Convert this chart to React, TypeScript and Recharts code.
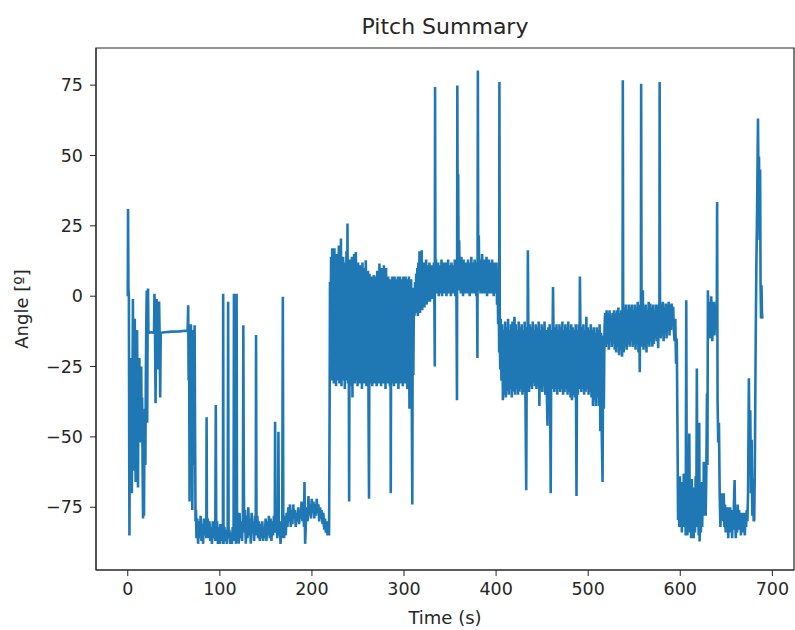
import React from "react"
import { LineChart, Line, XAxis, YAxis, ReferenceArea } from "recharts"

// pitch log, [time s, angle deg]
const launch = [
  [0, 0], [0.3, 31], [0.7, 3], [1.2, 0], [1.8, -85], [2.3, -45], [2.8, -22], [3.3, -50], [3.8, -30],
  [4.4, -70], [5, -40], [5.6, -1], [6.1, -35], [6.6, -62], [7.1, -20], [7.6, -8], [8.1, -48], [8.6, -66],
  [9.1, -25], [9.6, -44], [10.1, -12], [10.6, -38], [11.1, -68], [11.6, -30], [12.1, -48], [12.6, -22],
  [13.1, -52], [13.6, -35], [14.1, -45], [14.6, -25], [15.1, -50], [15.6, -36], [16.1, -60], [16.6, -79],
  [17.1, -42], [17.6, -78], [18.1, -50], [18.6, -40], [19.1, -60], [19.6, -30], [20.1, -10], [20.6, 2],
  [21.1, -45], [21.5, -13], [22, 2.7], [22.4, -13],
]

const hold = [
  [23, -13], [26, -12.8], [28.5, -13], [29, 0.9], [29.6, -13], [30.2, -38], [30.8, -12], [31.3, -1],
  [31.9, -13], [32.5, -26], [33.2, -12], [34, -1.9], [34.6, -14], [35.2, -36], [35.8, -13], [40, -12.8],
  [48, -12.6], [56, -12.5], [63, -12.3], [65, -12.5],
]

const drop1 = [
  [65.6, -3.2], [66.1, -30], [66.6, -12], [67.1, -73], [67.6, -15], [68.1, -28], [68.6, -10], [69.1, -31],
  [69.6, -18], [70.1, -76], [70.6, -25], [71.1, -12], [71.6, -60], [72.1, -30], [72.6, -10.3], [73.1, -50],
  [73.6, -80], [74.1, -76], [74.6, -86],
]

const low1 = [
  [75.5, -79], [76.4, -88], [77.3, -80], [78.2, -86], [79.1, -78], [80, -87], [80.9, -81], [81.8, -88],
  [82.7, -79], [83.6, -85], [84.5, -80], [85.3, -86], [85.6, -43], [86, -84], [86.9, -79], [87.8, -86],
  [88.7, -80], [89.6, -87], [90.5, -82], [91.4, -88], [92.3, -80], [93.2, -86], [94.1, -81], [95, -87],
  [95.6, -38.7], [96.1, -84], [97, -80], [97.9, -88], [98.8, -82], [99.7, -88], [100.6, -81], [101.5, -87],
  [102.4, -83], [103.3, -88], [103.6, 0.9], [104, -88], [104.9, -82], [105.8, -87], [106.7, -83],
  [107.6, -88], [108.5, -82], [109, -2], [109.5, -86], [110.4, -83], [111.3, -88], [112.2, -84],
  [113.1, -88], [114, -82], [114.9, -87], [115.3, 0.9], [115.8, -86], [116.6, -80], [117.5, -88],
  [118.2, 0.9], [118.7, -87], [119.6, -79], [120.5, -88], [121.4, -77], [122.3, -86], [123.2, -80],
  [124.1, -87], [125, -79], [125.5, -10.3], [125.9, -56], [126.4, -84], [127.3, -76], [128.2, -88],
  [129.1, -78], [130, -86], [130.9, -75], [131.8, -85], [132.7, -79], [133.6, -88], [134.5, -77],
  [135.4, -84], [136.3, -80], [137.2, -87], [138.1, -78], [139, -85], [139.3, -13.8], [139.8, -83],
  [140.7, -78], [141.6, -86], [142.5, -80], [143.4, -87], [144.3, -81], [145.2, -86], [146.1, -80],
  [147, -87], [147.9, -82], [148.8, -86], [149.7, -79], [150.6, -87], [151.5, -80], [152.4, -85],
  [153.3, -78], [154.2, -86], [155.1, -79], [156, -87], [156.9, -80], [157.8, -85], [158.7, -78],
  [159.6, -84], [160, -44.6], [160.5, -82], [161.4, -77], [162.3, -86], [163.2, -79], [163.6, -48.2],
  [164.1, -85], [165, -80], [165.9, -88], [166.8, -81], [167.7, -86], [168.4, -0.2], [168.9, -80],
]

const low2 = [
  [169.8, -86], [170.7, -78], [171.6, -85], [172.5, -77], [173.4, -82], [174.3, -75], [175.2, -80],
  [176.1, -74], [177, -82], [177.9, -76], [178.8, -81], [179.7, -74], [180.6, -79], [181.5, -76],
  [182.4, -82], [183.3, -77], [184.2, -80], [185.1, -75], [186, -81], [186.9, -77], [187.8, -79],
  [188.7, -73], [189.6, -80], [190.5, -76], [191.4, -82], [191.9, -66], [192.6, -88], [193.5, -80],
  [194.4, -75], [195.3, -80], [196.2, -71], [197.1, -78], [198, -74], [198.9, -79], [199.8, -72],
  [200.7, -77], [201.6, -73], [202.5, -79], [203.4, -74], [204.3, -78], [205.2, -72], [206.1, -77],
  [207, -74], [207.9, -80], [208.8, -75], [209.7, -79], [210.6, -76], [211.5, -81], [212.4, -77],
  [213.3, -83], [214.2, -79], [215.1, -84], [216, -80], [216.9, -85], [217.8, -81], [218.6, -85],
]

const bandD = [
  [219.2, -40], [219.6, 5], [220.2, -25], [220.8, 14], [221.4, -30], [222, 17], [222.6, -28], [223.2, 12],
  [223.8, -31], [224.4, 17], [225, -24], [225.6, 10], [226.2, -32], [226.8, 15], [227.4, -30], [228, 13],
  [228.6, -27], [229.2, 18], [229.8, -31], [230.4, 14], [231, -29], [231.5, 20.5], [232.1, -32],
  [232.7, 11], [233.3, -30], [233.9, 14], [234.5, -28], [235.1, 9], [235.7, -33], [236.3, 12],
  [236.9, -30], [237.5, 16], [238.1, -29], [238.6, 25.8], [239.2, -31], [239.8, 10], [240.4, -73],
  [241, 13], [241.6, -32], [242.2, 8], [242.8, -30], [243.4, 14], [244, -36], [244.6, 11], [245.2, -30],
  [245.8, 15], [246.4, -31], [247, 9], [247.7, 15.7], [248.3, -30], [248.9, 8], [249.5, -32], [250.1, 12],
  [250.7, -29], [251.3, 6], [251.9, -31], [252.5, 11], [253.1, -30], [253.7, 9], [254.3, -33],
  [254.9, 12], [255.5, -30], [256.1, 7], [256.7, -31], [257.3, 10], [257.9, -29], [258.5, 12.8],
  [259.1, -32], [259.7, 6], [260.3, -31], [260.9, 9], [261.5, -43], [262, -72], [262.5, 8], [263.1, -31],
  [263.7, 5], [264.3, -30], [264.9, 7], [265.5, -32], [266.1, 4], [266.7, -30], [267.3, 7.5],
  [267.9, -31], [268.5, 5], [269.1, -29], [269.7, 7], [270.3, -32], [270.9, 9], [271.5, -30], [272.1, 6],
  [272.7, -31], [273.3, 11.6], [273.9, -29], [274.5, 8], [275.1, -32], [275.7, 10], [276.3, -30],
  [276.9, 6], [277.5, -31], [278.1, 11], [278.7, -30], [279.3, 7], [279.9, -33], [280.5, 10],
  [281.1, -30], [281.7, 5], [282.3, -31], [282.9, 7], [283.5, -29], [284.1, 4], [284.7, -32], [285.3, 6],
  [285.6, -70], [286.1, 3], [286.7, -31], [287.3, 7], [287.9, -30], [288.5, 5], [289.1, -32], [289.7, 7],
  [290.3, -29], [290.9, 4], [291.5, -31], [292.1, 6], [292.7, -30], [293.3, 7], [293.9, -33], [294.5, 5],
  [295.1, -30], [295.7, 7], [296.3, -31], [296.9, 4], [297.5, -29], [298.1, 6], [298.7, -32], [299.3, 7],
  [299.9, -30], [300.5, 5], [301.1, -31], [301.7, 7], [302.3, -30], [302.9, 4], [303.5, -33], [304.1, 6],
  [304.7, -29], [305.3, 7], [305.9, -40], [306.5, 5], [307.1, -31], [307.7, 6], [308.3, -30], [309, -74],
  [309.5, 3], [310.1, -28], [310.8, 2],
]

const bandE = [
  [311.4, -7], [312, 5], [312.6, -6], [313.2, 8], [313.8, -5], [314.4, 10], [315, -7], [315.6, 12],
  [316.2, -4], [316.8, 16], [317.4, -6], [318, 14], [318.6, -3], [319.2, 16.3], [319.8, -5], [320.4, 11],
  [321, -2], [321.6, 12], [322.2, -4], [322.8, 10], [323.4, -1], [324, 13], [324.6, -3], [325.2, 9],
  [325.8, -2], [326.4, 11], [327, 0], [327.6, 12], [328.2, -2], [328.8, 9], [329.4, 0], [330, 11],
  [330.6, -1], [331.2, 10], [331.8, 1], [332.4, 12], [333, -3], [333.4, -25], [333.7, 74.3], [334.1, 5],
  [334.7, 13], [335.3, 1], [335.9, 10], [336.5, 2], [337.1, 12], [337.7, 0], [338.3, 9], [338.9, 1],
  [339.5, 11], [340.1, 2], [340.7, 13], [341.3, 0], [341.9, 10], [342.5, 2], [343.1, 12], [343.7, 1],
  [344.3, 9], [344.9, 3], [345.5, 12], [346.1, 0], [346.7, 10], [347.3, 2], [347.9, 13], [348.5, 1],
  [349.1, 11], [349.7, 3], [350.3, 9], [350.9, 0], [351.5, 12], [352.1, 2], [352.7, 10], [353.3, 1],
  [353.9, 11], [354.5, 2], [355.1, 13], [355.7, 0], [356.3, 10], [356.9, 2], [357.5, -37], [357.9, 74.9],
  [358.3, 12], [358.8, 43.5], [359.3, 8], [359.9, 19.9], [360.5, 2], [361.1, 11], [361.7, 1], [362.3, 14],
  [362.9, 2], [363.5, 10], [364.1, 0], [364.7, 13], [365.3, 2], [365.9, 9], [366.5, 1], [367.1, 12],
  [367.7, 3], [368.3, 10], [368.9, 1], [369.5, 13], [370.1, 2], [370.7, 11], [371.3, 0], [371.9, 12],
  [372.5, 2], [373.1, 14], [373.7, 1], [374.3, 12], [374.9, 3], [375.5, 10], [376.1, 1], [376.7, 13],
  [377.3, 2], [377.9, 11], [378.5, 0], [379.1, 12], [379.7, -22], [380.2, 80.2], [380.6, 4], [381.2, 21.6],
  [381.8, 2], [382.4, 13], [383, 1], [383.6, 12], [384.2, 2], [384.8, 15], [385.4, 1], [386, 11],
  [386.6, 3], [387.2, 13], [387.8, 1], [388.4, 12], [389, 2], [389.6, 14], [390.2, 0], [390.8, 11],
  [391.4, 2], [392, 13], [392.6, 1], [393.2, 12], [393.8, 3], [394.4, 10], [395, 1], [395.6, 13],
  [396.2, 2], [396.8, 11], [397.4, 0], [398, 12], [398.6, 2], [399.2, 10], [399.8, 1], [400.4, 12],
  [401, -3], [401.6, 9], [402.2, -10], [402.8, 5], [403.3, -20], [403.6, 76.1], [404, -15], [404.5, -26],
  [405, -8],
]

const bandF = [
  [405.8, -30], [406.6, -10], [407.4, -37], [408.2, -12], [409, -35], [409.8, -9], [410.6, -36],
  [411.4, -11], [412.2, -34], [413, -8], [413.8, -35], [414.6, -12], [415.4, -33], [416.2, -10], [417, -36],
  [417.8, -9], [418.6, -34], [419.4, -11], [420, -7.3], [420.6, -35], [421.4, -10], [422.2, -33],
  [423, -12], [423.8, -35], [424.6, -9], [425.4, -34], [426.2, -11], [427, -33], [427.8, -10],
  [428.6, -35], [429.4, -12], [430.2, -34], [431, -9], [431.8, -33], [432.7, -69], [433.4, -11],
  [434, -30], [434.5, 16.3], [435, -12], [435.8, -34], [436.6, -10], [437.4, -32], [438.2, -11],
  [439, -33], [439.8, -9], [440.6, -31], [441.4, -12], [442.2, -32], [443, -10], [443.8, -33],
  [444.6, -11], [445.4, -32], [446.2, -9], [447, -39], [447.8, -12], [448.6, -33], [449.4, -10],
  [450.2, -34], [451, -11], [451.8, -32], [452.6, -9], [453.4, -35], [454.2, -12], [455, -33],
  [455.8, -46], [456.6, -11], [457.4, -34], [458.2, -10], [459.3, -70], [460, -12], [460.8, -33],
  [461.8, 3.3], [462.4, -14], [463.2, -34], [464, -11], [464.8, -33], [465.6, -10], [466.4, -35],
  [467.2, -12], [468, -33], [468.8, -10], [469.6, -34], [470.4, -11], [471.2, -33], [472, -9],
  [472.8, -35], [473.6, -12], [474.4, -34], [475.2, -10], [476, -33], [476.8, -11], [477.6, -35],
  [478.4, -9], [479.2, -34], [480, -12], [480.8, -36], [481.6, -10], [482.4, -37], [483.2, -11],
  [484, -35], [484.8, -12], [485.6, -36], [486.4, -10], [487.3, -71], [488, -12], [488.8, -35],
  [489.6, -10], [490.4, -33], [491, 7], [491.6, -13], [492.4, -34], [493.2, -11], [494, -33], [494.8, -10],
  [495.6, -35], [496.4, -12], [497.2, -34], [498, -7.3], [498.8, -33], [499.6, -11], [500.4, -35],
  [501.2, -12], [502, -34], [502.8, -10], [503.6, -36], [504.4, -12], [505.2, -39], [506, -11],
  [506.8, -37], [507.6, -13], [508.4, -39], [509.2, -11], [510, -36], [510.8, -12], [511.6, -39],
  [512.4, -10], [513.2, -48], [514, -13], [514.8, -50], [515.6, -66], [516.3, -14], [517, -40],
  [517.7, -12],
]

const bandG = [
  [518.4, -6], [519.2, -18], [520, -5], [520.8, -17], [521.6, -6], [522.4, -19], [523.2, -5], [524, -16],
  [524.8, -7], [525.6, -18], [526.4, -6], [527.2, -17], [528, -5], [528.8, -19], [529.6, -6], [530.4, -20],
  [531.2, -5], [532, -18], [532.8, -4], [533.6, -21], [534.4, -6], [535.2, -19], [536, -5], [536.8, -21.5],
  [537.3, -8], [537.6, 76.7], [538, -10], [538.6, -20], [539.4, -4], [540.2, -18], [541, -3], [541.8, -19],
  [542.6, -5], [543.4, -17], [544.2, -3], [545, -18], [545.8, -4], [546.6, -16], [547.4, -3], [548.2, -18],
  [549, -5], [549.8, -17], [550.6, -3], [551.4, -19], [552.2, -4], [553, -17], [553.8, -2], [554.6, -20],
  [555.4, -4], [556, -27], [556.6, -3], [557.2, -12], [557.5, 75.5], [557.9, 2], [558.5, -18],
  [559.3, 2.1], [560.1, -19], [560.9, -4], [561.7, -18], [562.5, -3], [563.3, -20], [564.1, -5],
  [564.9, -17], [565.7, -2], [566.5, -18], [567.3, -2.6], [568.1, -16], [568.9, -4], [569.7, -18],
  [570.5, -3], [571.3, -17], [572.1, -5], [572.9, -15], [573.7, -3], [574.5, -16], [575.3, -4],
  [576, -18.5], [576.6, -3], [577.3, -12], [577.6, 76.1], [578, -1], [578.7, -15], [579.5, -3],
  [580.3, -14], [581.1, -2], [581.9, -16], [582.7, -4], [583.5, -13], [584.3, -2.6], [585.1, -15],
  [585.9, -3], [586.7, -12], [587.5, -2], [588.3, -14], [589.1, -3], [589.9, -12], [590.7, -2.6],
  [591.5, -10], [592.3, -3.8], [593, -12],
]

const low3 = [
  [593.8, -16], [594.6, -8], [595.4, -24], [596.2, -15], [597, -50], [597.6, -79.5], [598.2, -70],
  [598.9, -82], [599.6, -64], [600.3, -80], [601, -66], [601.7, -84], [602.4, -70], [603.1, -82],
  [603.8, -63], [604.5, -79], [605.2, -68], [605.9, -85], [606.5, -1.4], [607, -72], [607.7, -85],
  [608.4, -66], [609.1, -83], [609.8, -48.8], [610.4, -84], [611.1, -68], [611.8, -86], [612.5, -65],
  [613.2, -84], [613.9, -70], [614.6, -86], [615.3, -68], [616, -84], [616.7, -64], [617.4, -82],
  [618, -25.7], [618.6, -80], [619.3, -66], [620, -85], [620.6, -45], [621, -87.2], [621.7, -70],
  [622.4, -84], [623.1, -66], [623.8, -82], [624.5, -68], [625.2, -78], [625.5, -58.8], [626.2, -77],
  [626.9, -66], [627.6, -78], [628.3, -62], [629, -34.6], [629.5, -60], [630, 2.1],
]

const mid4 = [
  [630.6, -10], [631.2, -3], [631.8, -15], [632.4, -2], [633, -12], [633.6, 0], [634.2, -8], [634.8, -16],
  [635.4, -4], [636, -10], [636.6, -2], [637.2, -14], [637.8, -5], [638.4, -12], [639, -3], [639.6, -9],
  [640, 33.5], [640.5, -37], [641.2, -52], [642, -45], [642.8, -70], [643.6, -82],
]

const low5 = [
  [644.4, -70], [645.1, -80], [645.8, -72], [646.5, -78], [647.2, -70], [647.9, -82], [648.6, -74],
  [649.3, -84], [650, -76], [650.7, -82], [651.4, -75], [652.1, -86], [652.8, -78], [653.5, -84],
  [654.2, -75], [654.9, -83], [655.6, -77], [656.3, -86], [657, -76], [657.7, -83], [658.4, -72],
  [659, -65.3], [659.6, -80], [660.3, -86], [661, -76], [661.7, -84], [662.4, -74], [663.1, -82],
  [663.8, -76], [664.5, -83], [665.2, -77], [665.9, -85], [666.6, -78], [667.3, -84], [668, -77],
  [668.7, -82], [669.4, -78], [670.1, -85], [670.8, -77], [671.5, -82], [672.2, -76], [672.9, -80],
  [673.6, -70], [674.5, -29.2], [675.2, -55], [676, -40.5], [676.8, -70], [677.5, -51], [678.2, -78],
  [679, -65], [679.7, -80], [680.3, -79.5],
]

const finish = [
  [681, -60], [681.8, -20], [682.6, 10], [683.4, 30], [684.4, 63.1], [684.9, 40], [685.5, 49.6],
  [686.1, 20], [686.7, 45], [687.2, 4.5], [687.7, -7.9], [688.2, 3.9], [688.7, -6], [689.2, -8],
]

const xTicks = [0, 100, 200, 300, 400, 500, 600, 700]
const yTicks = [-75, -50, -25, 0, 25, 50, 75]

const data = [...launch, ...hold, ...drop1, ...low1, ...low2, ...bandD, ...bandE, ...bandF, ...bandG, ...low3, ...mid4, ...low5, ...finish]
  .map(([t, a]) => ({ t, a }))

const font = "'DejaVu Sans', sans-serif"
const ink = "#262626"
const minus = (v: number) => String(v).replace("-", "\u2212")

export default function App() {
  return (
    <div style={{ position: "absolute", left: 0, top: 0, width: 795, height: 630, background: "#fff", fontFamily: font }}>
      <LineChart width={795} height={630} data={data} margin={{ top: 48, right: 1, bottom: 30, left: 36 }}>
        <XAxis
          dataKey="t"
          type="number"
          domain={[-34.5, 723.5]}
          ticks={xTicks}
          allowDataOverflow
          height={30}
          tickSize={6}
          tickMargin={7}
          stroke={ink}
          tick={{ fontSize: 17.5, fill: ink, fontFamily: font }}
        />
        <YAxis
          dataKey="a"
          type="number"
          domain={[-97.3, 88.2]}
          ticks={yTicks}
          allowDataOverflow
          width={60}
          tickSize={6}
          tickMargin={7}
          stroke={ink}
          tickFormatter={minus}
          tick={{ fontSize: 17.5, fill: ink, fontFamily: font }}
        />
        <ReferenceArea x1={-34.5} x2={723.5} y1={-97.3} y2={88.2} fill="none" stroke={ink} strokeWidth={1.2} ifOverflow="visible" />
        <Line
          type="linear"
          dataKey="a"
          stroke="#1f77b4"
          strokeWidth={2.6}
          dot={false}
          isAnimationActive={false}
        />
      </LineChart>
      <div style={{ position: "absolute", left: 96, width: 698, top: 14, textAlign: "center", fontSize: 22, lineHeight: "26px", color: ink }}>
        Pitch Summary
      </div>
      <div style={{ position: "absolute", left: 96, width: 698, top: 607, textAlign: "center", fontSize: 18, lineHeight: "21px", color: ink }}>
        Time (s)
      </div>
      <div
        style={{
          position: "absolute",
          left: 21,
          top: 309,
          transform: "translate(-50%, -50%) rotate(-90deg)",
          whiteSpace: "nowrap",
          fontSize: 18,
          lineHeight: "21px",
          color: ink,
        }}
      >
        Angle [º]
      </div>
    </div>
  )
}
